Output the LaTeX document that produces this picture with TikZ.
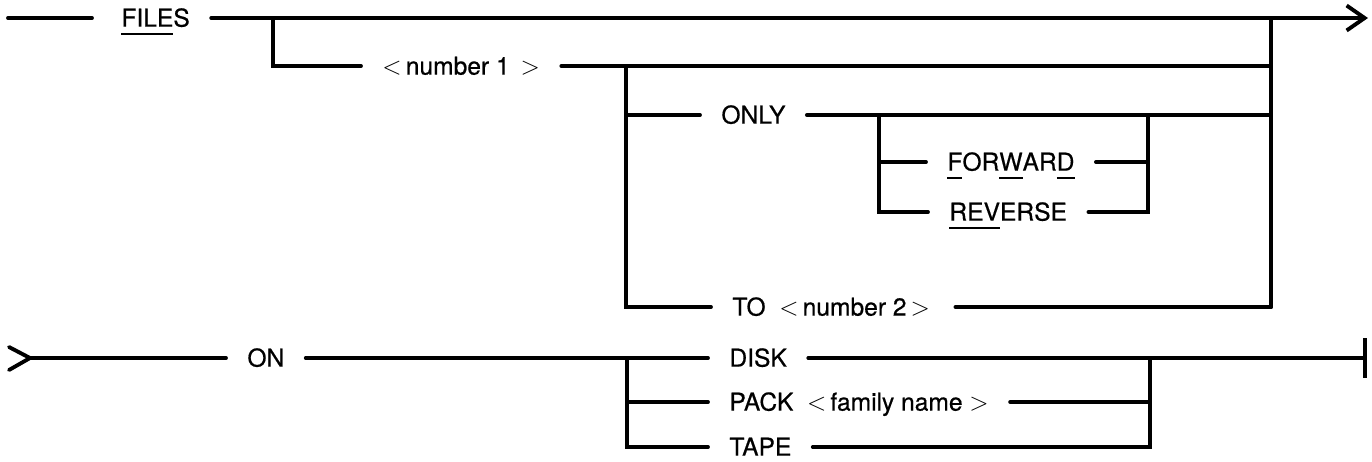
\documentclass[tikz,border=0pt]{standalone}
\usepackage{fontspec}
\setmainfont{TeX Gyre Heros}
\newfontfamily\railfont{TeX Gyre Heros}[FakeBold=0.5]
\usepackage{tikz}
\usetikzlibrary{arrows.meta}
\newcommand{\ukey}[1]{\setbox0=\hbox{#1}\rlap{\rule[-5pt]{\wd0}{1.6pt}}\box0}

\begin{document}
\begin{tikzpicture}[
    x=0.02cm, y=-0.02cm,
    rail/.style={
      line width=2.2pt,
      line cap=round
    },
    word/.style={
      anchor=west,
      inner xsep=12pt,
      inner ysep=0pt,
      text height=9.8pt,
      text depth=0pt,
      font=\railfont\fontsize{14}{16}\selectfont
    },
    exit/.style={-{Straight Barb[length=3.6mm,width=5mm]}},
    stopbar/.style={-{Bar[width=8mm]}}
  ]
    \useasboundingbox (0,0) rectangle (1372,461);

    % FILES line
    \coordinate (s0) at (8,18);
    \coordinate (s1) at (92,18);
    \node[word] (files) at (100,18) {\ukey{FILE}S};
    \coordinate (j1) at (273,18);
    \coordinate (j2) at (1271,18);
    \coordinate (out) at (1368,18);
    \node[word] (num1) at (361,66) {$<$\,number 1 \,$>$};
    \coordinate (j3) at (626,66);
    \coordinate (j4) at (1271,66);
    \node[word] (only) at (700,115) {ONLY};
    \coordinate (j6) at (879,115);
    \coordinate (j7) at (1148,115);
    \coordinate (j8) at (1271,115);
    \node[word] (fwd) at (926,162) {\ukey{F}OR\ukey{W}AR\ukey{D}};
    \node[word] (rev) at (928,212) {\ukey{REV}ERSE};
    \node[word] (to) at (711,307) {TO\ \ $<$\,number 2\,$>$\,};
    \coordinate (j5) at (1271,307);

    \draw[rail] (s0) -- (s1);
    \draw[rail] (files.east) -- (j1) -- (j2);
    \draw[rail, exit] (j2) -- (out);
    \draw[rail] (j2) -- (j5);
    \draw[rail] (j1) |- (num1.west);
    \draw[rail] (num1.east) -- (j3) -- (j4);
    \draw[rail] (j3) |- (only.west);
    \draw[rail] (j3) |- (to.west);
    \draw[rail] (only.east) -- (j6) -- (j7) -- (j8);
    \draw[rail] (j6) |- (fwd.west);
    \draw[rail] (j6) |- (rev.west);
    \draw[rail] (fwd.east) -| (j7);
    \draw[rail] (rev.east) -| (j7);
    \draw[rail] (to.east) -- (j5);

    % ON line
    \coordinate (s2) at (30,358);
    \node[word] (on) at (226,358) {ON};
    \coordinate (k1) at (627,358);
    \node[word] (disk) at (708,358) {DISK};
    \node[word] (pack) at (708,402) {PACK\ \ $<$\,family\ name $>$\ };
    \node[word] (tape) at (708,447) {TAPE};
    \coordinate (k2) at (1150,358);
    \coordinate (stop) at (1367,358);

    \draw[rail] (s2) ++(-21,-11) -- (s2) -- ++(-21,12);
    \draw[rail] (s2) -- (on.west);
    \draw[rail] (on.east) -- (k1) -- (disk.west);
    \draw[rail] (k1) |- (pack.west);
    \draw[rail] (k1) |- (tape.west);
    \draw[rail] (disk.east) -- (k2);
    \draw[rail, stopbar] (k2) -- (stop);
    \draw[rail] (pack.east) -| (k2);
    \draw[rail] (tape.east) -| (k2);
\end{tikzpicture}
\end{document}
